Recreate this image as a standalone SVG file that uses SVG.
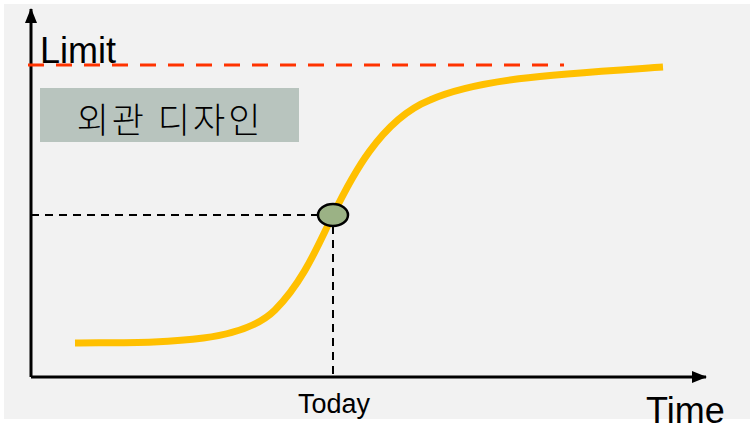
<svg xmlns="http://www.w3.org/2000/svg" width="750" height="427" viewBox="0 0 750 427">
<defs>
<marker id="ah" markerWidth="15" markerHeight="12" refX="14" refY="6" orient="auto" markerUnits="userSpaceOnUse" viewBox="0 0 15 12"><path d="M0,0 L15,6 L0,12 z" fill="#000"/></marker>
<style>
.lbl{font-family:"Liberation Sans",Arial,sans-serif;fill:#000}
.dash{stroke:#000;stroke-width:2;stroke-dasharray:8,6;fill:none}
</style>
</defs>
<rect width="750" height="427" fill="#fff"/>
<rect x="4" y="4" width="746" height="415" fill="#f2f2f2"/>
<g id="connectors">
<line x1="31" y1="377" x2="31" y2="9" stroke="#000" stroke-width="3" marker-end="url(#ah)"/>
<line x1="31" y1="377" x2="706" y2="377" stroke="#000" stroke-width="3" marker-end="url(#ah)"/>
<line x1="28" y1="65" x2="564" y2="65" stroke="#ff3300" stroke-width="3" stroke-dasharray="16,12"/>
<line class="dash" x1="31" y1="215" x2="318" y2="215"/>
<line class="dash" x1="333" y1="226" x2="333" y2="377"/>
<path d="M75,343 C160,342 240,345 275,310 C305,280 320,240 333,215 C350,180 380,120 430,100 C480,78 560,74 663,67" fill="none" stroke="#ffc000" stroke-width="7"/>
</g>
<g id="limit"><text class="lbl" x="40" y="63" font-size="36">Limit</text></g>
<g id="design">
<rect x="40" y="88" width="259" height="54" fill="#b8c4be"/>
<text x="170" y="133" font-size="35" letter-spacing="3" text-anchor="middle" font-family="'Noto Sans CJK KR',sans-serif" font-weight="300" fill="#000">외관 디자인</text>
</g>
<g id="today-point"><ellipse cx="333" cy="215" rx="15" ry="11" fill="#9bb285" stroke="#000" stroke-width="2.5"/></g>
<g id="today"><text class="lbl" x="334" y="413" font-size="27" text-anchor="middle">Today</text></g>
<g id="time"><text class="lbl" x="646" y="423" font-size="36">Time</text></g>
</svg>
